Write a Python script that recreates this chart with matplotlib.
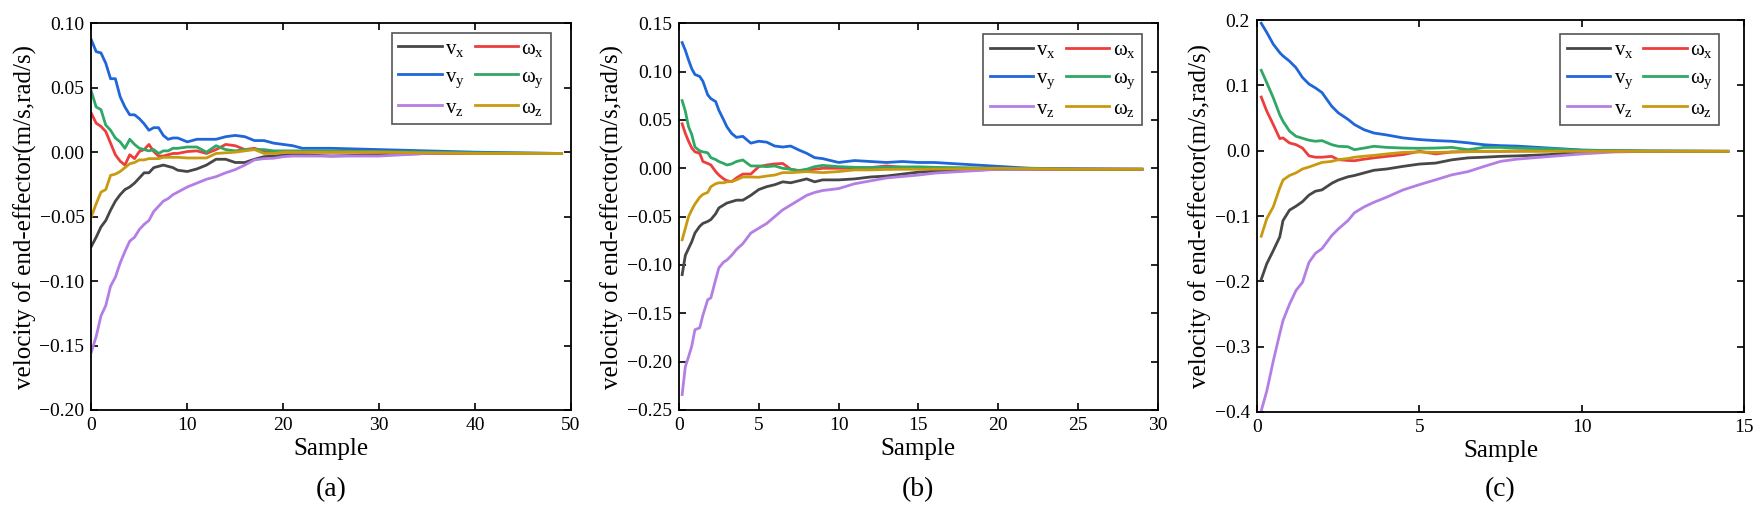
import numpy as np
import matplotlib
matplotlib.use('Agg')
import matplotlib.pyplot as plt

plt.rcParams['font.family'] = ['Liberation Serif', 'DejaVu Serif']
plt.rcParams['mathtext.fontset'] = 'custom'
plt.rcParams['mathtext.rm'] = 'Liberation Serif'
plt.rcParams['mathtext.it'] = 'Liberation Serif:italic'

# %%
# (a) 数据
xa = [0, 0.5, 1, 1.5, 2, 2.5, 3, 3.5, 4, 4.5, 5, 5.5, 6, 6.5, 7, 7.5, 8, 8.5, 9,
      10, 11, 12, 13, 14, 15, 16, 17, 18, 19, 20, 21, 22, 25, 30, 35, 40, 49]
vx_a = [-0.073, -0.066, -0.058, -0.053, -0.045, -0.038, -0.033, -0.029, -0.027, -0.024,
        -0.020, -0.016, -0.016, -0.012, -0.011, -0.010, -0.011, -0.012, -0.014, -0.015,
        -0.013, -0.010, -0.0055, -0.0055, -0.008, -0.008, -0.0055, -0.0035, -0.003, -0.0025,
        -0.002, -0.002, -0.003, -0.002, -0.001, -0.001, -0.001]
vy_a = [0.087, 0.078, 0.077, 0.069, 0.057, 0.057, 0.043, 0.035, 0.029, 0.029,
        0.026, 0.022, 0.017, 0.019, 0.019, 0.013, 0.010, 0.011, 0.011, 0.008,
        0.010, 0.010, 0.010, 0.012, 0.013, 0.012, 0.009, 0.009, 0.007, 0.006,
        0.005, 0.003, 0.003, 0.002, 0.001, 0.000, -0.001]
vz_a = [-0.155, -0.143, -0.127, -0.119, -0.104, -0.097, -0.086, -0.077, -0.069, -0.066,
        -0.060, -0.056, -0.053, -0.046, -0.042, -0.038, -0.036, -0.033, -0.031, -0.027,
        -0.024, -0.021, -0.019, -0.016, -0.0135, -0.010, -0.006, -0.005, -0.0047, -0.0035,
        -0.003, -0.003, -0.003, -0.003, -0.001, -0.001, -0.001]
wx_a = [0.030, 0.0225, 0.020, 0.016, 0.007, -0.002, -0.007, -0.010, -0.002, -0.005,
        0.0005, 0.002, 0.006, 0.0005, -0.003, -0.003, -0.002, -0.001, -0.001, 0.0005,
        0.001, -0.001, 0.002, 0.006, 0.005, 0.002, 0.003, 0.0005, 0.0, 0.0,
        0.0, 0.0, 0.0, 0.0, -0.0005, -0.001, -0.001]
wy_a = [0.047, 0.035, 0.033, 0.021, 0.017, 0.011, 0.008, 0.003, 0.010, 0.006,
        0.003, 0.002, 0.001, 0.002, -0.001, 0.001, 0.001, 0.003, 0.003, 0.004,
        0.004, 0.000, 0.005, 0.002, 0.001, 0.002, 0.002, 0.002, 0.001, 0.001,
        0.001, 0.001, 0.001, 0.0005, 0.000, -0.0005, -0.001]
wz_a = [-0.050, -0.040, -0.031, -0.029, -0.018, -0.017, -0.015, -0.012, -0.009, -0.008,
        -0.006, -0.006, -0.005, -0.005, -0.005, -0.004, -0.004, -0.004, -0.004, -0.0045,
        -0.0045, -0.0045, -0.001, -0.0005, 0.0, 0.001, 0.002, -0.001, -0.001, 0.0,
        0.0, 0.0, 0.0, 0.0, -0.0005, -0.001, -0.001]

# %%
# (b) 数据
xb = [0.2, 0.4, 0.6, 0.8, 1.0, 1.3, 1.5, 1.8, 2.0, 2.3, 2.5, 2.8, 3.0, 3.3, 3.6, 4, 4.5,
      5, 5.5, 6, 6.5, 7, 7.5, 8, 8.5, 9, 10, 11, 12, 13, 14, 15, 16, 18, 20, 22, 25, 29]
vx_b = [-0.110, -0.090, -0.083, -0.076, -0.067, -0.060, -0.057, -0.055, -0.053, -0.047,
        -0.041, -0.038, -0.036, -0.0345, -0.033, -0.033, -0.028, -0.022, -0.019, -0.017,
        -0.014, -0.015, -0.013, -0.011, -0.014, -0.012, -0.012, -0.011, -0.009, -0.008,
        -0.006, -0.004, -0.003, -0.002, -0.001, -0.001, -0.001, -0.001]
vy_b = [0.130, 0.122, 0.112, 0.103, 0.097, 0.095, 0.090, 0.076, 0.072, 0.069,
        0.060, 0.050, 0.043, 0.036, 0.032, 0.033, 0.026, 0.028, 0.027, 0.023,
        0.022, 0.023, 0.019, 0.0155, 0.011, 0.010, 0.006, 0.008, 0.007, 0.006,
        0.007, 0.006, 0.006, 0.004, 0.002, 0.0, -0.0005, -0.001]
vz_b = [-0.234, -0.205, -0.195, -0.184, -0.167, -0.165, -0.152, -0.136, -0.134, -0.115,
        -0.103, -0.097, -0.095, -0.090, -0.084, -0.078, -0.067, -0.062, -0.057, -0.050,
        -0.043, -0.038, -0.033, -0.028, -0.025, -0.023, -0.021, -0.016, -0.013, -0.010,
        -0.0085, -0.007, -0.005, -0.003, -0.001, -0.001, -0.001, -0.001]
wx_b = [0.046, 0.036, 0.028, 0.021, 0.017, 0.0155, 0.007, 0.005, 0.0034, -0.0034,
        -0.007, -0.011, -0.0128, -0.0138, -0.010, -0.006, -0.006, 0.0017, 0.0034, 0.0045,
        0.005, -0.001, -0.0024, -0.0017, -0.001, 0.0, 0.0, 0.0, 0.0007, 0.0024,
        0.001, 0.0005, 0.0, 0.0, 0.0, -0.0005, -0.001, -0.001]
wy_b = [0.070, 0.059, 0.043, 0.035, 0.022, 0.018, 0.017, 0.016, 0.011, 0.009,
        0.007, 0.005, 0.0034, 0.0045, 0.007, 0.0086, 0.0024, 0.0024, 0.0017, 0.0024,
        0.0, -0.001, -0.0024, -0.001, 0.0017, 0.003, 0.0017, 0.001, 0.0007, 0.001,
        0.0014, 0.0015, 0.001, 0.0005, 0.0, 0.0, -0.001, -0.001]
wz_b = [-0.074, -0.062, -0.050, -0.043, -0.037, -0.030, -0.027, -0.025, -0.019, -0.016,
        -0.015, -0.015, -0.014, -0.0138, -0.012, -0.009, -0.009, -0.0093, -0.008, -0.007,
        -0.0045, -0.0045, -0.004, -0.0034, -0.004, -0.0045, -0.0034, -0.0017, -0.0017, -0.0012,
        -0.001, -0.001, -0.0008, -0.0005, 0.0, -0.0005, -0.001, -0.001]

# %%
# (c) 数据
xc = [0.13, 0.3, 0.5, 0.7, 0.8, 1.0, 1.2, 1.4, 1.6, 1.8, 2.0, 2.3, 2.5, 2.8, 3.0, 3.3,
      3.6, 4.0, 4.5, 5.0, 5.5, 6.0, 6.5, 7.0, 7.5, 8, 9, 10, 11, 12, 14.5]
vx_c = [-0.197, -0.173, -0.153, -0.132, -0.107, -0.091, -0.085, -0.078, -0.068, -0.062,
        -0.060, -0.050, -0.045, -0.040, -0.038, -0.034, -0.030, -0.028, -0.024, -0.0205,
        -0.019, -0.014, -0.011, -0.010, -0.0087, -0.008, -0.006, -0.002, -0.001, -0.001, -0.001]
vy_c = [0.195, 0.181, 0.163, 0.150, 0.145, 0.137, 0.127, 0.112, 0.102, 0.096,
        0.089, 0.068, 0.058, 0.048, 0.040, 0.032, 0.027, 0.024, 0.0195, 0.017,
        0.0154, 0.0144, 0.012, 0.009, 0.0077, 0.007, 0.004, 0.001, 0.0, -0.0005, -0.001]
vz_c = [-0.398, -0.368, -0.322, -0.280, -0.260, -0.235, -0.214, -0.2015, -0.171, -0.157,
        -0.150, -0.130, -0.120, -0.107, -0.095, -0.086, -0.079, -0.071, -0.060, -0.052,
        -0.0446, -0.037, -0.032, -0.024, -0.0164, -0.013, -0.009, -0.005, -0.002, -0.001, -0.001]
wx_c = [0.082, 0.0605, 0.040, 0.0185, 0.0195, 0.0118, 0.0092, 0.004, -0.008, -0.010,
        -0.010, -0.0087, -0.0138, -0.0150, -0.0154, -0.013, -0.011, -0.0087, -0.006, -0.001,
        -0.005, -0.002, -0.0015, -0.001, -0.001, -0.0005, 0.0, 0.0, -0.0005, -0.001, -0.001]
wy_c = [0.123, 0.104, 0.081, 0.055, 0.045, 0.030, 0.022, 0.019, 0.016, 0.0144,
        0.0154, 0.0092, 0.0067, 0.006, 0.0015, 0.004, 0.0067, 0.005, 0.004, 0.0036,
        0.004, 0.005, 0.0015, 0.005, 0.005, 0.004, 0.003, 0.0005, 0.0, -0.0005, -0.001]
wz_c = [-0.131, -0.104, -0.086, -0.057, -0.045, -0.038, -0.034, -0.028, -0.025, -0.0215,
        -0.018, -0.0164, -0.0138, -0.012, -0.010, -0.0085, -0.0072, -0.005, -0.0026, -0.002,
        -0.0026, -0.002, -0.0015, -0.001, -0.001, -0.001, -0.001, -0.001, -0.001, -0.001, -0.001]

labels = ['v$_\\mathrm{x}$', 'v$_\\mathrm{y}$', 'v$_\\mathrm{z}$',
          'ω$_\\mathrm{x}$', 'ω$_\\mathrm{y}$', 'ω$_\\mathrm{z}$']
colors = ['#474747', '#1f66d9', '#b47fe4', '#ee3d3d', '#2fa866', '#c99a10']

panels = [
    ('(a)', xa, [vx_a, vy_a, vz_a, wx_a, wy_a, wz_a], (0, 50), (-0.20, 0.10),
     [0, 10, 20, 30, 40, 50], [-0.20, -0.15, -0.10, -0.05, 0.00, 0.05, 0.10], '%.2f'),
    ('(b)', xb, [vx_b, vy_b, vz_b, wx_b, wy_b, wz_b], (0, 30), (-0.25, 0.15),
     [0, 5, 10, 15, 20, 25, 30], [-0.25, -0.20, -0.15, -0.10, -0.05, 0.00, 0.05, 0.10, 0.15], '%.2f'),
    ('(c)', xc, [vx_c, vy_c, vz_c, wx_c, wy_c, wz_c], (0, 15), (-0.4, 0.2),
     [0, 5, 10, 15], [-0.4, -0.3, -0.2, -0.1, 0.0, 0.1, 0.2], '%.1f'),
]
positions = [[0.0518, 0.207, 0.2719, 0.748],
             [0.3849, 0.207, 0.2715, 0.748],
             [0.7126, 0.2031, 0.2761, 0.7582]]
leg_anchor = [(0.958, 0.975), (0.967, 0.972), (0.949, 0.964)]

fig = plt.figure(figsize=(17.64, 5.17), dpi=100)

for k, (tag, x, series, xlim, ylim, xt, yt, fmt) in enumerate(panels):
    ax = fig.add_axes(positions[k])
    for s, c, lab in zip(series, colors, labels):
        ax.plot(x, s, color=c, lw=2.0, label=lab)
    ax.set_xlim(*xlim)
    ax.set_ylim(*ylim)
    ax.set_xticks(xt)
    ax.set_yticks(yt)
    ax.set_yticklabels([(fmt % v).replace('-', '\u2212') for v in yt])
    ax.tick_params(direction='in', top=True, right=True, length=5, width=1.2,
                   labelsize=14, pad=5)
    for sp in ax.spines.values():
        sp.set_linewidth(1.3)
    ax.set_xlabel('Sample', fontsize=18, labelpad=3)
    ax.set_ylabel('velocity of end-effector(m/s,rad/s)', fontsize=18, labelpad=2)
    cx = positions[k][0] + positions[k][2] / 2
    fig.text(cx, 1 - 490 / 517, tag, ha='center', va='center', fontsize=20)
    leg = ax.legend(ncol=2, loc='upper right', bbox_to_anchor=leg_anchor[k],
                    borderaxespad=0, fontsize=15, handlelength=2.1, handletextpad=0.15,
                    columnspacing=0.45, labelspacing=0.4, borderpad=0.3,
                    fancybox=False, framealpha=1, edgecolor='#555555')
    leg.get_frame().set_linewidth(1.2)

plt.savefig('out.png', dpi=100)
